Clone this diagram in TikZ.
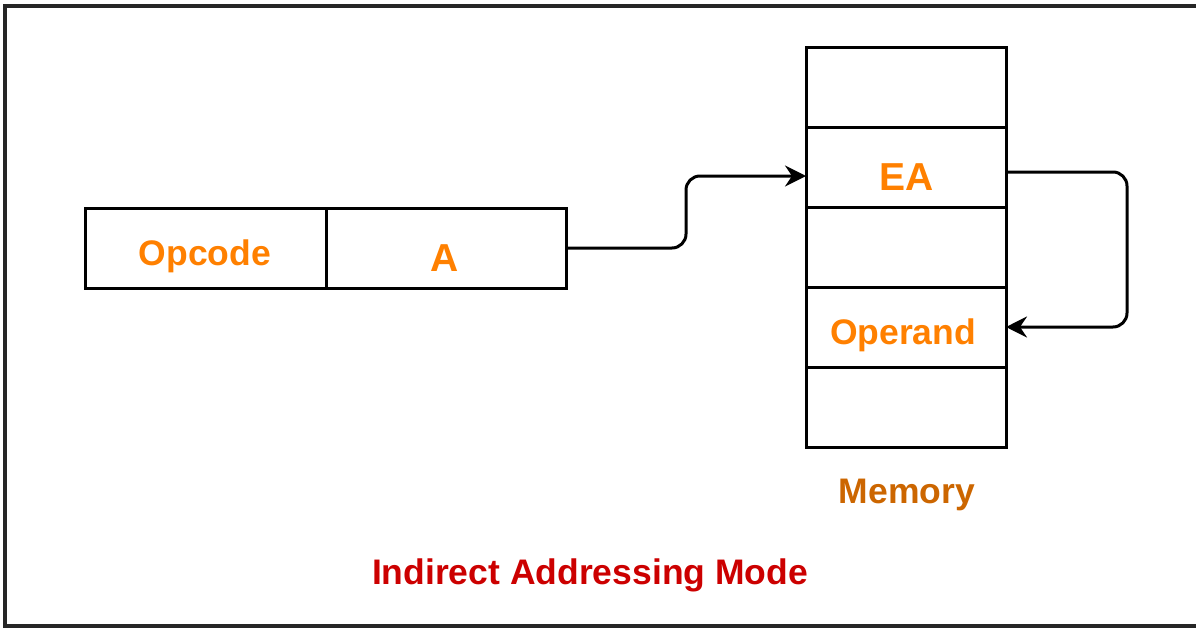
\documentclass[tikz,border=0pt]{standalone}
\usepackage{fontspec}
\setmainfont{Liberation Sans}
\usetikzlibrary{arrows.meta}
\definecolor{fieldorange}{HTML}{FF8000}
\definecolor{memorange}{HTML}{CC6600}
\definecolor{titlered}{HTML}{CC0000}
\tikzset{
  cell/.style={draw=black, line width=3pt, minimum height=80pt, inner sep=0pt, outer sep=0pt,
    font=\bfseries\fontsize{35.5}{40}\selectfont, text=fieldorange},
  bigtext/.style={font=\bfseries\fontsize{39}{44}\selectfont},
  link/.style={draw=black, line width=3pt, rounded corners=14pt, -{Stealth[length=21pt,width=21pt,inset=7pt]}},
  caption/.style={font=\bfseries\fontsize{35.5}{40}\selectfont, inner sep=0pt}
}
\begin{document}
\begin{tikzpicture}[x=1pt,y=-1pt]
\useasboundingbox (0,0) rectangle (1196,629);
% outer frame (right side cut off)
\draw[line width=3.2pt, color=black!85] (1205,6) -- (5,6) -- (5,626) -- (1205,626);
% instruction
\node[cell, minimum width=241pt] (op) at (205.5,248) {};
\node[cell, minimum width=240pt] (addr) at (446,248) {};
\node[font=\bfseries\fontsize{35.5}{40}\selectfont, text=fieldorange] (optext) at (205,256) {Opcode};
\node[bigtext, text=fieldorange] (atext) at (445,258) {A};
% memory
\node[cell, minimum width=200pt] (m1) at (906,87) {};
\node[cell, minimum width=200pt] (m2) at (906,167) {};
\node[cell, minimum width=200pt] (m3) at (906,247) {};
\node[cell, minimum width=200pt] (m4) at (906,327) {};
\node[cell, minimum width=200pt] (m5) at (906,407) {};
\node[bigtext, text=fieldorange] (eatext) at (907,177) {EA};
\node[font=\bfseries\fontsize{35.5}{40}\selectfont, text=fieldorange] (operandtext) at (903,335) {Operand};
\node[caption, text=memorange] (mem) at (907,495) {Memory};
\node[caption, text=titlered] (title) at (590,575) {Indirect Addressing Mode};
% connectors
\coordinate (a1) at (686,248);
\coordinate (a2) at (686,176);
\draw[link] (addr.east |- 0,248) -- (a1) -- (a2) -- (m2.west |- 0,176);
\coordinate (b1) at (1127,172);
\coordinate (b2) at (1127,327);
\draw[link] (m2.east |- 0,172) -- (b1) -- (b2) -- (m4.east);
\end{tikzpicture}
\end{document}
